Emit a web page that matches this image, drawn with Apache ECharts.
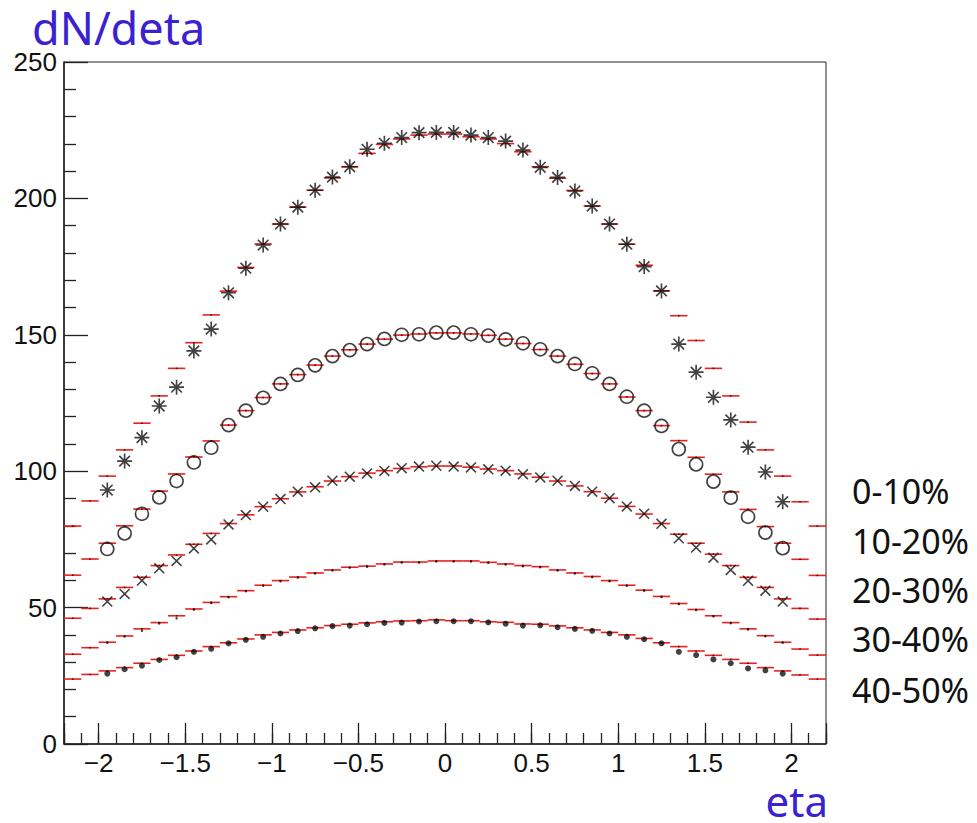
<!DOCTYPE html>
<html>
<head>
<meta charset="utf-8">
<title>dN/deta vs eta</title>
<script src="https://cdn.jsdelivr.net/npm/echarts@6/dist/echarts.min.js"></script>
<style>
  html, body { margin: 0; padding: 0; background: #fff; }
  #chart { width: 977px; height: 823px; }
</style>
</head>
<body>
<div id="chart"></div>
<script>
// bin centres of the histograms (bin width 0.1)
var binEta = [
  -2.15, -2.05, -1.95, -1.85, -1.75, -1.65, -1.55, -1.45, -1.35, -1.25, -1.15,
  -1.05, -0.95, -0.85, -0.75, -0.65, -0.55, -0.45, -0.35, -0.25, -0.15, -0.05,
  0.05, 0.15, 0.25, 0.35, 0.45, 0.55, 0.65, 0.75, 0.85, 0.95, 1.05,
  1.15, 1.25, 1.35, 1.45, 1.55, 1.65, 1.75, 1.85, 1.95, 2.05, 2.15
]
// measured points only cover |eta| < 2
var pointEta = binEta.slice(2, 42)

var centralityLabels = ['0-10%', '10-20%', '20-30%', '30-40%', '40-50%']

// red histograms (44 bins)
var model0010 = [79.9, 89.1, 98.2, 107.8, 117.6, 127.6, 137.7, 147.1, 157.3, 166.0, 174.7, 183.3, 190.6, 196.8, 203.0, 207.5, 211.6, 216.5, 219.8, 221.8, 223.2, 223.6,
  223.6, 222.6, 221.8, 220.1, 217.1, 211.6, 207.4, 202.9, 197.2, 190.6, 183.2, 175.5, 166.1, 157.0, 147.9, 137.7, 127.6, 118.0, 107.8, 98.2, 88.8, 79.9]
var model1020 = [61.9, 67.8, 73.6, 80.0, 86.1, 92.7, 99.0, 105.2, 111.1, 116.9, 122.2, 127.0, 132.0, 135.4, 138.9, 142.2, 144.5, 146.6, 148.4, 149.9, 150.3, 150.7,
  150.7, 150.3, 149.8, 148.4, 146.8, 144.6, 142.2, 139.2, 135.8, 132.0, 127.2, 122.2, 116.7, 111.2, 105.1, 98.9, 92.4, 86.0, 79.7, 73.6, 67.7, 61.8]
var model2030 = [46.1, 49.7, 53.2, 57.4, 61.1, 65.4, 69.3, 73.2, 77.2, 80.8, 84.0, 87.0, 89.9, 92.4, 94.3, 96.4, 98.0, 99.3, 100.2, 101.0, 101.6, 101.9,
  101.9, 101.5, 100.8, 100.2, 99.0, 97.8, 96.4, 94.6, 92.5, 90.1, 87.1, 84.3, 80.8, 76.9, 73.6, 69.6, 65.4, 61.1, 57.4, 53.2, 49.7, 45.8]
var model3040 = [32.9, 35.3, 37.3, 39.6, 42.2, 44.5, 47.0, 49.5, 51.9, 54.0, 56.2, 58.2, 59.9, 61.2, 62.7, 63.8, 64.8, 65.2, 66.0, 66.7, 66.7, 67.1,
  67.1, 67.1, 66.6, 66.0, 65.4, 65.0, 63.8, 62.7, 61.4, 59.9, 58.2, 56.4, 54.1, 51.5, 49.3, 47.0, 44.5, 42.2, 39.7, 37.3, 34.8, 32.6]
var model4050 = [23.8, 25.5, 26.8, 28.0, 29.6, 31.0, 32.5, 34.1, 35.7, 37.1, 38.5, 40.0, 40.9, 41.8, 42.6, 43.4, 43.9, 44.4, 44.8, 45.1, 45.2, 45.5,
  45.2, 45.2, 44.8, 44.6, 44.0, 43.9, 43.3, 42.6, 41.8, 40.9, 40.0, 38.7, 37.1, 35.7, 34.1, 32.5, 31.0, 29.6, 28.0, 26.8, 25.3, 23.8]

// black markers (40 points)
var data0010 = [93.1, 103.7, 112.3, 123.9, 130.8, 144.1, 152.1, 165.4, 174.4, 182.9, 190.6, 196.8, 203.0, 207.8, 211.6, 218.0, 220.2, 222.3, 224.1, 224.2,
  224.2, 223.2, 222.3, 221.0, 217.7, 211.4, 207.7, 202.7, 197.2, 190.6, 183.2, 175.0, 166.1, 146.6, 136.3, 127.1, 118.8, 108.8, 99.7, 88.8]
var data1020 = [71.5, 77.2, 84.4, 90.4, 96.4, 103.2, 108.6, 116.9, 122.2, 126.9, 132.0, 135.3, 138.8, 142.2, 144.4, 146.6, 148.5, 150.0, 150.2, 150.8,
  150.8, 150.2, 149.7, 148.3, 146.9, 144.7, 142.2, 139.3, 135.9, 132.0, 127.3, 122.2, 116.6, 108.1, 102.5, 96.2, 90.3, 83.3, 77.5, 71.8]
var data2030 = [52.2, 55.0, 59.9, 64.4, 67.1, 71.7, 75.0, 80.5, 83.9, 87.0, 89.8, 92.5, 94.1, 96.5, 98.0, 99.2, 100.1, 101.1, 101.7, 102.0,
  101.7, 101.4, 100.7, 100.2, 98.9, 97.7, 96.5, 94.6, 92.5, 90.1, 87.1, 84.4, 80.7, 75.4, 72.0, 68.3, 63.8, 59.8, 56.2, 52.2]
var data3040 = [37.1, 39.4, 41.5, 44.2, 46.1, 49.2, 51.7, 53.8, 56.0, 58.0, 59.7, 61.0, 62.5, 63.6, 64.6, 65.0, 65.8, 66.5, 66.5, 66.9,
  66.9, 66.9, 66.4, 65.8, 65.2, 64.8, 63.6, 62.5, 61.2, 59.7, 58.0, 56.2, 53.9, 51.3, 49.1, 46.8, 44.3, 42.0, 39.5, 37.1]
var data4050 = [25.8, 27.4, 28.7, 30.8, 31.8, 33.8, 34.9, 36.9, 38.2, 39.3, 40.5, 41.4, 42.4, 43.2, 43.4, 43.9, 44.4, 44.5, 44.9, 45.0,
  45.0, 45.0, 44.6, 44.1, 43.4, 43.5, 42.8, 42.2, 41.5, 40.5, 39.3, 38.4, 36.9, 33.8, 32.6, 31.0, 29.6, 27.7, 27.0, 25.8]

var BIN_HALF = 0.05

// ROOT-like marker shapes
var STAR = 'path://M0 8.9L20 8.9L20 11.1L0 11.1ZM8.9 0L11.1 0L11.1 20L8.9 20Z' +
  'M3.71 2.15L17.85 16.29L16.29 17.85L2.15 3.71Z' +
  'M16.29 2.15L17.85 3.71L3.71 17.85L2.15 16.29Z' +
  'M7.3 7.3L12.7 7.3L12.7 12.7L7.3 12.7Z'
var CROSS = 'path://M0 2L2 0L20 18L18 20ZM18 0L20 2L2 20L0 18Z'

function pairs(xs, ys) {
  return xs.map(function (x, i) { return [x, ys[i]] })
}

function histSeries(name, values) {
  return {
    name: name,
    type: 'custom',
    z: 2,
    data: pairs(binEta, values),
    encode: { x: 0, y: 1 },
    renderItem: function (params, api) {
      var x = api.value(0)
      var v = api.value(1)
      var a = api.coord([x - BIN_HALF, v])
      var b = api.coord([x + BIN_HALF, v])
      return {
        type: 'group',
        children: [
          { type: 'line', shape: { x1: a[0], y1: a[1], x2: b[0], y2: b[1] },
            style: { stroke: '#e8211f', lineWidth: 1.6 } },
          { type: 'rect', shape: { x: (a[0] + b[0]) / 2 - 0.8, y: a[1] - 0.8, width: 1.6, height: 1.6 },
            style: { fill: '#5a0a0a' } }
        ]
      }
    }
  }
}

function pointSeries(name, values, symbol, size, style) {
  return {
    name: name,
    type: 'scatter',
    z: 3,
    symbol: symbol,
    symbolSize: size,
    itemStyle: style,
    data: pairs(pointEta, values)
  }
}

function etaLabel(value) {
  if (Math.abs(value * 2 - Math.round(value * 2)) > 1e-6) return ''
  var v = Math.round(value * 10) / 10
  if (v === 0) return '0'
  return v < 0 ? '\u2212' + Math.abs(v) : String(v)
}

var myChart = echarts.init(document.getElementById('chart'), null, { renderer: 'svg' })

var legendY = [498, 548, 597, 646, 697]

var option = {
  animation: false,
  backgroundColor: '#fff',
  grid: {
    left: 64, right: 151, top: 62, bottom: 79,
    show: true, borderColor: '#222', borderWidth: 1
  },
  xAxis: [
    {
      type: 'value',
      min: -2.2,
      max: 2.2,
      splitNumber: 9,
      splitLine: { show: false },
      axisLine: { onZero: false, lineStyle: { color: '#222', width: 1.5 } },
      axisTick: { inside: true, length: 21, lineStyle: { color: '#222', width: 1.3 } },
      axisLabel: {
        margin: 6,
        color: '#111',
        fontFamily: 'Liberation Sans',
        fontSize: 26,
        formatter: etaLabel
      }
    },
    {
      // minor ticks every 0.1
      type: 'value',
      position: 'bottom',
      min: -2.2,
      max: 2.2,
      interval: 0.1,
      splitLine: { show: false },
      axisLine: { show: false, onZero: false },
      axisLabel: { show: false },
      axisTick: { inside: true, length: 11, lineStyle: { color: '#222', width: 1.3 } }
    }
  ],
  yAxis: {
    type: 'value',
    min: 0,
    max: 250,
    interval: 50,
    splitLine: { show: false },
    axisLine: { show: true, onZero: false, lineStyle: { color: '#222', width: 1.5 } },
    axisTick: { show: true, inside: true, length: 24, lineStyle: { color: '#222', width: 1.3 } },
    minorTick: { show: true, splitNumber: 5, length: 12, lineStyle: { color: '#222', width: 1.3 } },
    axisLabel: {
      margin: 7,
      color: '#111',
      fontFamily: 'Liberation Sans',
      fontSize: 26
    }
  },
  graphic: [
    {
      type: 'text', left: 32, top: 5,
      style: { text: 'dN/deta', fill: '#3a22d0', font: '45px "Noto Sans"' }
    },
    {
      type: 'text', right: 149, top: 779,
      style: { text: 'eta', fill: '#3a22d0', font: '42px "Noto Sans"' }
    }
  ].concat(centralityLabels.map(function (label, i) {
    return {
      type: 'text', left: 852, top: legendY[i] - 24,
      style: { text: label, fill: '#111', font: '34px "Noto Sans"' }
    }
  })),
  series: [
    histSeries('0-10% model', model0010),
    histSeries('10-20% model', model1020),
    histSeries('20-30% model', model2030),
    histSeries('30-40% model', model3040),
    histSeries('40-50% model', model4050),
    pointSeries(centralityLabels[0], data0010, STAR, 15, { color: '#111' }),
    pointSeries(centralityLabels[1], data1020, 'circle', 13,
      { color: 'rgba(0,0,0,0)', borderColor: '#111', borderWidth: 1.6 }),
    pointSeries(centralityLabels[2], data2030, CROSS, 11, { color: '#111' }),
    pointSeries(centralityLabels[3], data3040, 'circle', 2.5, { color: '#111' }),
    pointSeries(centralityLabels[4], data4050, 'circle', 6, { color: '#111' })
  ]
}

myChart.setOption(option)
</script>
</body>
</html>
